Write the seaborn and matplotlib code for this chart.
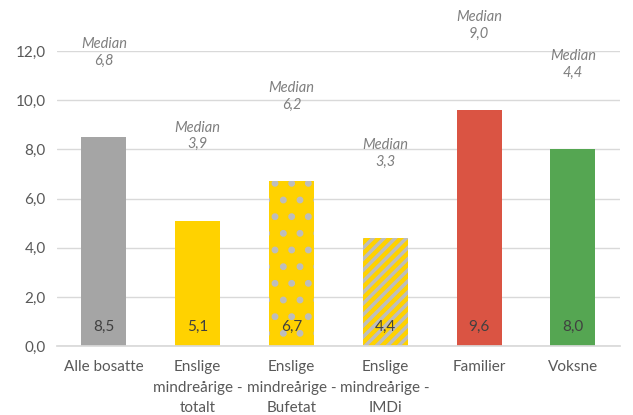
import matplotlib
matplotlib.use("Agg")
import matplotlib.pyplot as plt
import seaborn as sns
import pandas as pd

categories = ["Alle bosatte", "Enslige\nmindreårige -\ntotalt", "Enslige\nmindreårige -\nBufetat",
              "Enslige\nmindreårige -\nIMDi", "Familier", "Voksne"]
averages = [8.5, 5.1, 6.7, 4.4, 9.6, 8.0]
medians = [6.8, 3.9, 6.2, 3.3, 9.0, 4.4]
bar_colors = ["#A5A5A5", "#FFD200", "#FFD200", "#FFD200", "#DA5443", "#55A652"]
hatches = [None, None, ".", "///", None, None]
yticks = [0, 2, 4, 6, 8, 10, 12]

sns.set_theme(style="white")
plt.rcParams["font.family"] = ["Lato", "DejaVu Sans"]
plt.rcParams["hatch.linewidth"] = 2.5

df = pd.DataFrame({"kategori": categories, "verdi": averages})

fig = plt.figure(figsize=(6.33, 4.15), dpi=100)
ax = fig.add_axes([0.090, 0.166, 0.889, 0.711])
sns.barplot(data=df, x="kategori", y="verdi", hue="kategori", palette=bar_colors,
            legend=False, width=0.48, saturation=1, ax=ax, zorder=3)

for patch, h in zip(ax.patches, hatches):
    patch.set_linewidth(0)
    if h:
        patch.set_hatch(h)
        patch.set_edgecolor("#BDBDBD")

ax.set_ylim(0, 12)
ax.set_yticks(yticks)
ax.set_yticklabels([f"{t:.1f}".replace(".", ",") for t in yticks])
ax.yaxis.grid(True, color="#D9D9D9", linewidth=1, zorder=0)
ax.set_axisbelow(True)
for s in ["top", "right", "left"]:
    ax.spines[s].set_visible(False)
ax.spines["bottom"].set_color("#D9D9D9")
ax.spines["bottom"].set_zorder(4)
ax.tick_params(axis="both", length=0, labelsize=11, colors="#595959", pad=8)
ax.tick_params(axis="x", pad=10)
for lbl in ax.get_xticklabels():
    lbl.set_linespacing(1.6)
ax.set_xlabel("")
ax.set_ylabel("")

for i, (v, m) in enumerate(zip(averages, medians)):
    ax.annotate(f"{v:.1f}".replace(".", ","), (i, 0), xytext=(0, 14), textcoords="offset points",
                ha="center", va="center", fontsize=11, color="#404040", zorder=5)
    ax.annotate("Median\n" + f"{m:.1f}".replace(".", ","), (i, v), xytext=(0, 61),
                textcoords="offset points", ha="center", va="center", fontsize=10.5,
                style="italic", color="#7F7F7F", annotation_clip=False, linespacing=1.25)

fig.savefig("out.png", dpi=100)
